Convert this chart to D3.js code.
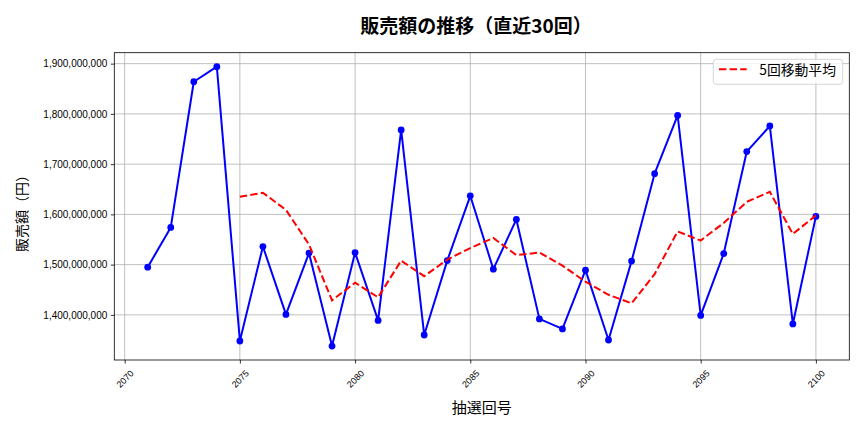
<!DOCTYPE html>
<html>
<head>
<meta charset="utf-8">
<script src="https://cdn.jsdelivr.net/npm/d3@7"></script>
<style>
  body { margin: 0; background: #fff; }
  svg { font-family: "Noto Sans CJK JP", "Noto Sans", sans-serif; }
  .grid line { stroke: #b0b0b0; stroke-width: 0.8; }
  .axis path { stroke: #000; stroke-width: 0.8; }
  .axis line { stroke: #000; stroke-width: 0.8; }
  .axis text { fill: #000; }
</style>
</head>
<body>
<div id="chart"></div>
<script>
// draw numbers (x categories)
const draws = [2071, 2072, 2073, 2074, 2075, 2076, 2077, 2078, 2079, 2080,
               2081, 2082, 2083, 2084, 2085, 2086, 2087, 2088, 2089, 2090,
               2091, 2092, 2093, 2094, 2095, 2096, 2097, 2098, 2099, 2100];

// sales per draw (yen)
const sales = [1495e6, 1574e6, 1864e6, 1894e6, 1348e6, 1536e6, 1401e6, 1523e6, 1338e6, 1524e6,
               1389e6, 1768e6, 1360e6, 1508e6, 1637e6, 1491e6, 1590e6, 1392e6, 1372e6, 1489e6,
               1350e6, 1507e6, 1681e6, 1797e6, 1399e6, 1522e6, 1725e6, 1776e6, 1382e6, 1596e6];

// 5-draw moving average, starts at 2075
const maDraws = [2075, 2076, 2077, 2078, 2079, 2080, 2081, 2082, 2083, 2084, 2085, 2086, 2087,
                 2088, 2089, 2090, 2091, 2092, 2093, 2094, 2095, 2096, 2097, 2098, 2099, 2100];
const maValues = [1635e6, 1643e6, 1609e6, 1540e6, 1429e6, 1464e6, 1435e6, 1508e6, 1477e6, 1510e6,
                  1533e6, 1553e6, 1519e6, 1524e6, 1498e6, 1466e6, 1440e6, 1423e6, 1481e6, 1566e6,
                  1548e6, 1583e6, 1625e6, 1645e6, 1561e6, 1598e6];

const xTicks = [2070, 2075, 2080, 2085, 2090, 2095, 2100];
const yTicks = [1400e6, 1500e6, 1600e6, 1700e6, 1800e6, 1900e6];

const titleText = "販売額の推移（直近30回）";
const xLabel = "抽選回号";
const yLabel = "販売額（円）";
const legendLabel = "5回移動平均";

const W = 864, H = 432;
const margin = {top: 52.7, right: 14.7, bottom: 72, left: 114.3};
const width = W - margin.left - margin.right;
const height = H - margin.top - margin.bottom;

const svg = d3.select("#chart").append("svg")
    .attr("width", W)
    .attr("height", H);

const g = svg.append("g")
    .attr("transform", `translate(${margin.left},${margin.top})`);

// matplotlib-like 5% margins
const xMin = d3.min(draws), xMax = d3.max(draws);
const xPad = (xMax - xMin) * 0.05;
const x = d3.scaleLinear()
    .domain([xMin - xPad, xMax + xPad])
    .range([0, width]);

const allY = sales.concat(maValues);
const yMin = d3.min(allY), yMax = d3.max(allY);
const yPad = (yMax - yMin) * 0.05;
const y = d3.scaleLinear()
    .domain([yMin - yPad, yMax + yPad])
    .range([height, 0]);

// grid
g.append("g").attr("class", "grid")
    .selectAll("line.gx")
    .data(xTicks)
    .enter().append("line")
    .attr("x1", d => x(d)).attr("x2", d => x(d))
    .attr("y1", 0).attr("y2", height);

g.append("g").attr("class", "grid")
    .selectAll("line.gy")
    .data(yTicks)
    .enter().append("line")
    .attr("x1", 0).attr("x2", width)
    .attr("y1", d => y(d)).attr("y2", d => y(d));

// axes
const fmt = d3.format(",");
const xAxis = d3.axisBottom(x).tickValues(xTicks).tickFormat(d3.format("d"))
    .tickSizeInner(3.5).tickSizeOuter(0).tickPadding(3.5);
const yAxis = d3.axisLeft(y).tickValues(yTicks).tickFormat(fmt)
    .tickSizeInner(3.5).tickSizeOuter(0).tickPadding(3.5);

const xAxisGroup = g.append("g")
    .attr("class", "x-axis axis")
    .attr("transform", `translate(0,${height})`)
    .call(xAxis);
xAxisGroup.select(".domain").remove();
xAxisGroup.selectAll("text")
    .attr("font-size", 9)
    .attr("text-anchor", "middle")
    .attr("dy", null)
    .attr("dominant-baseline", "central")
    .attr("y", 19)
    .attr("transform", "rotate(-45, 0, 19)");

const yAxisGroup = g.append("g")
    .attr("class", "y-axis axis")
    .call(yAxis);
yAxisGroup.select(".domain").remove();
yAxisGroup.selectAll("text")
    .attr("font-size", 10);

// lines
const line = d3.line()
    .x(d => x(d[0]))
    .y(d => y(d[1]));

const salesData = draws.map((d, i) => [d, sales[i]]);
const maData = maDraws.map((d, i) => [d, maValues[i]]);

g.append("path")
    .datum(salesData)
    .attr("fill", "none")
    .attr("stroke", "#0000ff")
    .attr("stroke-width", 2)
    .attr("stroke-linejoin", "round")
    .attr("d", line);

g.selectAll(".dot")
    .data(salesData)
    .enter().append("circle")
    .attr("class", "dot")
    .attr("cx", d => x(d[0]))
    .attr("cy", d => y(d[1]))
    .attr("r", 3.4)
    .attr("fill", "#0000ff");

g.append("path")
    .datum(maData)
    .attr("fill", "none")
    .attr("stroke", "#ff0000")
    .attr("stroke-width", 2)
    .attr("stroke-dasharray", "7.4,3.2")
    .attr("d", line);

// frame
g.append("rect")
    .attr("x", 0).attr("y", 0)
    .attr("width", width).attr("height", height)
    .attr("fill", "none")
    .attr("stroke", "#000")
    .attr("stroke-width", 0.8);

// legend
const lg = svg.append("g").attr("transform", "translate(713.3,59.3)");
lg.append("rect")
    .attr("width", 129.4).attr("height", 25)
    .attr("rx", 3).attr("ry", 3)
    .attr("fill", "rgba(255,255,255,0.8)")
    .attr("stroke", "#cccccc")
    .attr("stroke-width", 0.8);
lg.append("line")
    .attr("x1", 5.7).attr("x2", 33.4)
    .attr("y1", 10).attr("y2", 10)
    .attr("stroke", "#ff0000")
    .attr("stroke-width", 2)
    .attr("stroke-dasharray", "7.4,3.2");
lg.append("text")
    .attr("x", 46).attr("y", 10)
    .attr("dominant-baseline", "central")
    .attr("font-size", 13.8)
    .attr("fill", "#000")
    .text(legendLabel);

// title and labels
svg.append("text")
    .attr("x", 476).attr("y", 24)
    .attr("text-anchor", "middle")
    .attr("dominant-baseline", "central")
    .attr("font-size", 19)
    .attr("font-weight", "bold")
    .attr("fill", "#000")
    .text(titleText);

svg.append("text")
    .attr("x", margin.left + width / 2).attr("y", 406)
    .attr("text-anchor", "middle")
    .attr("dominant-baseline", "central")
    .attr("font-size", 15)
    .attr("fill", "#000")
    .text(xLabel);

svg.append("text")
    .attr("transform", "translate(21,210) rotate(-90)")
    .attr("text-anchor", "middle")
    .attr("dominant-baseline", "central")
    .attr("font-size", 14)
    .attr("fill", "#000")
    .text(yLabel);
</script>
</body>
</html>
